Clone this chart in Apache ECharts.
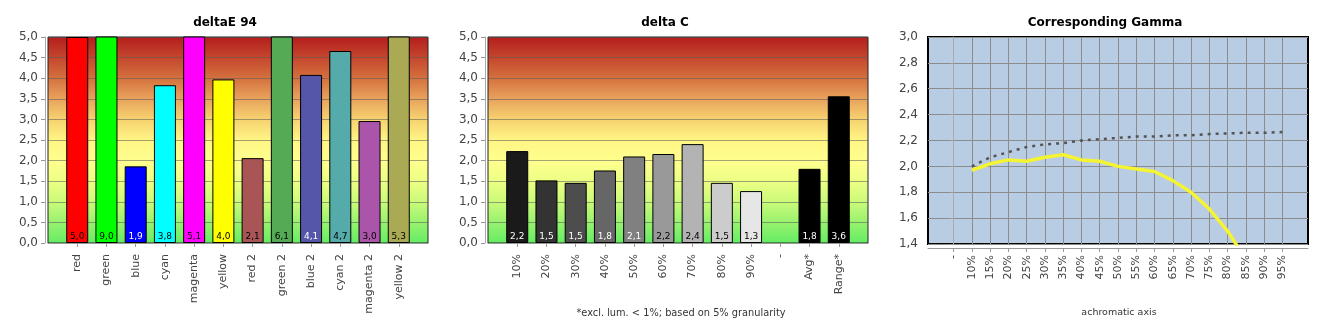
<!DOCTYPE html>
<html><head><meta charset="utf-8">
<script src="https://cdn.jsdelivr.net/npm/echarts@6/dist/echarts.min.js"></script>
<style>html,body{margin:0;padding:0;background:#fff}#c{width:1330px;height:330px}</style>
</head><body><div id="c"></div>
<script>
// ---- data ----
const deCategories = ['red','green','blue','cyan','magenta','yellow','red 2','green 2','blue 2','cyan 2','magenta 2','yellow 2'];
const deValues = [5.0, 9.0, 1.86, 3.83, 5.1, 3.97, 2.06, 6.1, 4.08, 4.66, 2.96, 5.3];
const dcCategories = ['10%','20%','30%','40%','50%','60%','70%','80%','90%','-','Avg*','Range*'];
const dcValues = [2.23, 1.52, 1.46, 1.76, 2.10, 2.16, 2.40, 1.46, 1.26, null, 1.80, 3.56];
const gammaCategories = ['-','10%','15%','20%','25%','30%','35%','40%','45%','50%','55%','60%','65%','70%','75%','80%','85%','90%','95%'];
const gammaTarget = [null, 2.00, 2.07, 2.11, 2.15, 2.17, 2.18, 2.20, 2.21, 2.22, 2.23, 2.23, 2.24, 2.24, 2.25, 2.255, 2.26, 2.26, 2.265];
const gammaMeasured = [null, 1.97, 2.02, 2.05, 2.04, 2.07, 2.09, 2.05, 2.04, 2.00, 1.98, 1.96, 1.89, 1.80, 1.67, 1.50, 1.28, null, null];
const deltaTicks = {min: 0, max: 5, step: 0.5};
const gammaTicks = {min: 1.4, max: 3.0, step: 0.2};

// ---- styles ----
const deColors = ['#ff0000','#00ff00','#0000ff','#00ffff','#ff00ff','#ffff00','#aa5555','#55aa55','#5555aa','#55aaaa','#aa55aa','#aaaa55'];
const deLabelColors = ['#000','#000','#fff','#000','#000','#000','#000','#000','#fff','#000','#000','#000'];
const dcColors = ['#1a1a1a','#333333','#4d4d4d','#666666','#808080','#999999','#b3b3b3','#cccccc','#e6e6e6',null,'#000000','#000000'];
const dcLabelColors = ['#fff','#fff','#fff','#fff','#fff','#000','#000','#000','#000','#000','#fff','#fff'];

const FONT = '"DejaVu Sans", Verdana, sans-serif';
const comma = v => Number(v).toFixed(1).replace('.', ',');

const chart = echarts.init(document.getElementById('c'), null, {renderer: 'canvas'});

const heatBg = new echarts.graphic.LinearGradient(0, 0, 0, 1, [
  {offset: 0, color: 'rgb(180,28,28)'},
  {offset: 0.1, color: 'rgb(196,70,45)'},
  {offset: 0.2, color: 'rgb(212,112,62)'},
  {offset: 0.3, color: 'rgb(232,162,92)'},
  {offset: 0.4, color: 'rgb(246,210,112)'},
  {offset: 0.5, color: 'rgb(255,245,132)'},
  {offset: 0.6, color: 'rgb(255,255,142)'},
  {offset: 0.7, color: 'rgb(236,255,132)'},
  {offset: 0.8, color: 'rgb(202,250,122)'},
  {offset: 0.9, color: 'rgb(152,242,110)'},
  {offset: 1, color: 'rgb(100,236,100)'}
]);

function catAxis(gridIndex, cats) {
  const data = [''].concat(cats, ['']);
  const n = data.length;
  return {
    type: 'category', gridIndex, data, boundaryGap: false, offset: 4,
    axisLine: {show: true, lineStyle: {color: '#999'}},
    axisTick: {show: true, length: 4, interval: i => i > 0 && i < n - 1, lineStyle: {color: '#999'}},
    axisLabel: {interval: 0, rotate: 90, margin: 7, fontFamily: FONT, fontSize: 11, color: '#444'},
    splitLine: {show: false}
  };
}
function valAxis(gridIndex, t) {
  return {
    type: 'value', gridIndex, min: t.min, max: t.max, interval: t.step, offset: 3,
    axisLine: {show: true, lineStyle: {color: '#aaa'}},
    axisTick: {show: true, length: 4, lineStyle: {color: '#999'}},
    axisLabel: {margin: 7, fontFamily: FONT, fontSize: 12, color: '#444', formatter: comma},
    splitLine: {show: true, lineStyle: {color: 'rgba(90,90,90,0.55)', width: 1}}
  };
}
function barData(values, colors, labelColors) {
  return [null].concat(values.map((v, i) => v == null ? null : ({
    value: v,
    itemStyle: {color: colors[i]},
    label: {color: labelColors[i]}
  })), [null]);
}
const barLabel = {
  show: true, position: 'insideBottom', distance: 2,
  fontFamily: FONT, fontSize: 9,
  formatter: p => comma(p.value)
};

const idx = gammaCategories.map((c, i) => i);
const titleStyle = {fontFamily: FONT, fontSize: 12, fontWeight: 'bold', color: '#000'};
const noteStyle = {fontFamily: FONT, fontSize: 9.5, fontWeight: 'normal', color: '#333'};

const option = {
  animation: false,
  title: [
    {text: 'deltaE 94', left: 220, top: 12, textAlign: 'center', textStyle: titleStyle},
    {text: 'delta C', left: 660, top: 12, textAlign: 'center', textStyle: titleStyle},
    {text: 'Corresponding Gamma', left: 1100, top: 12, textAlign: 'center', textStyle: titleStyle},
    {text: '*excl. lum. < 1%; based on 5% granularity', left: 676, top: 303, textAlign: 'center', textStyle: Object.assign({}, noteStyle, {fontSize: 9.8})},
    {text: 'achromatic axis', left: 1114, top: 303, textAlign: 'center', textStyle: noteStyle}
  ],
  grid: [
    {left: 48, top: 37, width: 380, height: 206, show: true, backgroundColor: heatBg, borderColor: '#222', borderWidth: 1},
    {left: 488, top: 37, width: 380, height: 206, show: true, backgroundColor: heatBg, borderColor: '#222', borderWidth: 1},
    {left: 928, top: 37, width: 380, height: 207, show: true, backgroundColor: '#b8cce4', borderColor: '#000', borderWidth: 2}
  ],
  xAxis: [
    catAxis(0, deCategories),
    catAxis(1, dcCategories),
    {
      type: 'value', gridIndex: 2, min: -1.4, max: 19.4, offset: 4,
      axisLine: {show: true, lineStyle: {color: '#999'}},
      axisTick: {show: true, length: 4, customValues: idx, lineStyle: {color: '#999'}},
      axisLabel: {customValues: idx, rotate: 90, margin: 7, fontFamily: FONT, fontSize: 11, color: '#444',
        formatter: v => gammaCategories[Math.round(v)]},
      splitLine: {show: true, customValues: idx, lineStyle: {color: '#8c8c8c'}}
    }
  ],
  yAxis: [
    valAxis(0, deltaTicks),
    valAxis(1, deltaTicks),
    Object.assign(valAxis(2, gammaTicks), {splitLine: {show: true, lineStyle: {color: '#8c8c8c'}}})
  ],
  series: [
    {type: 'bar', xAxisIndex: 0, yAxisIndex: 0, barWidth: 22, data: barData(deValues, deColors, deLabelColors),
     itemStyle: {borderColor: '#000', borderWidth: 1}, label: barLabel},
    {type: 'bar', xAxisIndex: 1, yAxisIndex: 1, barWidth: 22, data: barData(dcValues, dcColors, dcLabelColors),
     itemStyle: {borderColor: '#000', borderWidth: 1}, label: barLabel},
    {type: 'line', xAxisIndex: 2, yAxisIndex: 2, showSymbol: false, symbol: 'none',
     data: gammaTarget.map((v, i) => [i, v]).filter(p => p[1] != null),
     lineStyle: {color: '#555', width: 2.5, type: [3, 5]}, z: 3},
    {type: 'line', xAxisIndex: 2, yAxisIndex: 2, showSymbol: false, symbol: 'none',
     data: gammaMeasured.map((v, i) => [i, v]).filter(p => p[1] != null),
     lineStyle: {color: '#f4f432', width: 3.5}, z: 4}
  ]
};
chart.setOption(option);
</script>
</body></html>
